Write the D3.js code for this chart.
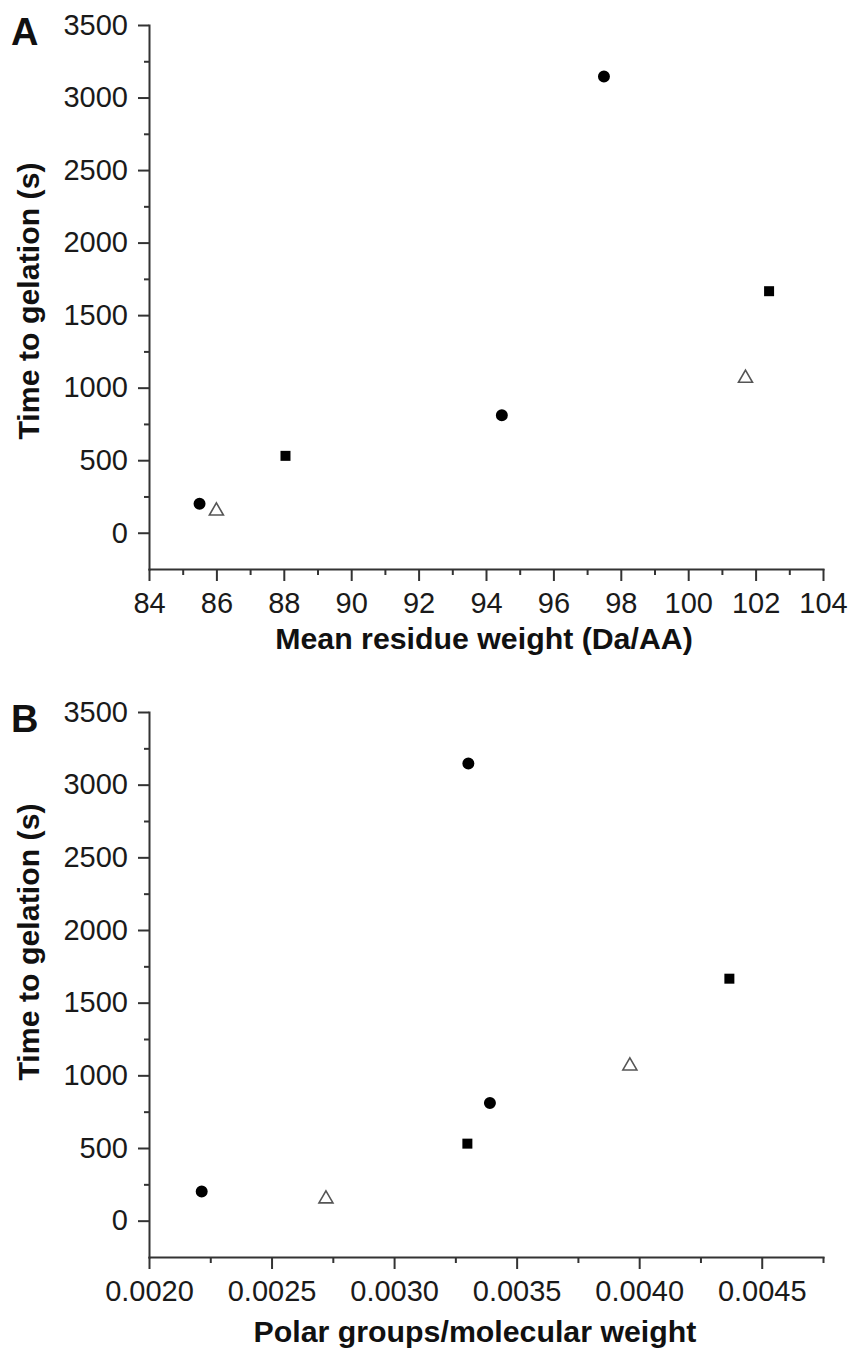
<!DOCTYPE html>
<html>
<head>
<meta charset="utf-8">
<script src="https://cdn.jsdelivr.net/npm/d3@7"></script>
<style>
    body { margin: 0; background: #fff; }
    .axis path, .axis line { stroke: #333; stroke-width: 2; }
    .axis text { font-family: "Liberation Sans", Arial, sans-serif; font-size: 29px; fill: #1a1a1a; }
    .title { font-family: "Liberation Sans", Arial, sans-serif; font-weight: bold; font-size: 30.3px; fill: #111; }
    .panel-label { font-family: "Liberation Sans", Arial, sans-serif; font-weight: bold; font-size: 38px; fill: #111; }
</style>
</head>
<body>
<div id="chart"></div>
<script>

// same seven samples, plotted against two different x variables
const markerShapes      = ["circle", "triangle", "square", "circle", "circle", "triangle", "square"];
const gelationTime      = [200, 150, 530, 810, 3145, 1065, 1665];
const meanResidueWeight = [85.5, 86.0, 88.05, 94.47, 97.5, 101.7, 102.4];
const polarGroupsPerMW  = [0.002215, 0.002722, 0.003299, 0.003391, 0.003303, 0.003962, 0.004368];

const yMajorTicks  = [0, 500, 1000, 1500, 2000, 2500, 3000, 3500];
const yMinorTicks  = [250, 750, 1250, 1750, 2250, 2750, 3250];
const xMajorTicksA = [84, 86, 88, 90, 92, 94, 96, 98, 100, 102, 104];
const xMinorTicksA = [85, 87, 89, 91, 93, 95, 97, 99, 101, 103];
const xMajorTicksB = [0.0020, 0.0025, 0.0030, 0.0035, 0.0040, 0.0045];
const xMinorTicksB = [0.00225, 0.00275, 0.00325, 0.00375, 0.00425, 0.00475];


const svg = d3.select("#chart")
    .append("svg")
    .attr("width", 854)
    .attr("height", 1349);

svg.append("rect").attr("width", 854).attr("height", 1349).attr("fill", "#fff");


function drawPanel(cfg) {

    const g = svg.append("g");

    const xScale = d3.scaleLinear()
        .domain(cfg.xDomain)
        .range([149, 823]);

    const yScale = d3.scaleLinear()
        .domain([-250, 3500])
        .range([cfg.bottom, cfg.top]);

    // minor ticks first, then the axes with labels on top
    g.append("g")
        .attr("class", "axis")
        .attr("transform", "translate(0," + cfg.bottom + ")")
        .call(d3.axisBottom(xScale).tickValues(cfg.xMinor).tickSize(6).tickFormat(""))
        .select(".domain").remove();

    g.append("g")
        .attr("class", "axis")
        .attr("transform", "translate(149,0)")
        .call(d3.axisLeft(yScale).tickValues(yMinorTicks).tickSize(5).tickFormat(""))
        .select(".domain").remove();

    g.append("g")
        .attr("class", "axis")
        .attr("transform", "translate(0," + cfg.bottom + ")")
        .call(d3.axisBottom(xScale).tickValues(cfg.xMajor).tickSize(12).tickPadding(11)
            .tickSizeOuter(0).tickFormat(cfg.xFormat));

    g.append("g")
        .attr("class", "axis")
        .attr("transform", "translate(149,0)")
        .call(d3.axisLeft(yScale).tickValues(yMajorTicks).tickSize(11).tickPadding(10)
            .tickSizeOuter(0).tickFormat(d3.format("d")));

    g.selectAll(".domain").attr("stroke-linecap", "square");

    // points
    const symbols = {
        circle:   d3.symbol().type(d3.symbolCircle).size(113),
        square:   d3.symbol().type(d3.symbolSquare).size(100),
        triangle: d3.symbol().type(d3.symbolTriangle).size(85)
    };

    g.selectAll(".pt")
        .data(cfg.xValues)
        .enter()
        .append("path")
        .attr("class", "pt")
        .attr("transform", (d, i) => "translate(" + xScale(d) + "," + yScale(gelationTime[i]) + ")")
        .attr("d", (d, i) => symbols[markerShapes[i]]())
        .attr("fill", (d, i) => markerShapes[i] === "triangle" ? "#fff" : "#000")
        .attr("stroke", (d, i) => markerShapes[i] === "triangle" ? "#555" : "none")
        .attr("stroke-width", 1.6);

    // titles
    g.append("text")
        .attr("class", "title")
        .attr("x", cfg.xTitleX)
        .attr("y", cfg.xTitleY)
        .attr("text-anchor", "middle")
        .text(cfg.xTitle);

    g.append("text")
        .attr("class", "title")
        .attr("transform", "translate(39," + cfg.yTitleY + ") rotate(-90)")
        .attr("text-anchor", "middle")
        .text("Time to gelation (s)");

    g.append("text")
        .attr("class", "panel-label")
        .attr("x", 11)
        .attr("y", cfg.top + cfg.labelDy)
        .text(cfg.label);
}


drawPanel({
    label: "A",
    labelDy: 20,
    top: 25,
    bottom: 569,
    xDomain: [84, 104],
    xMajor: xMajorTicksA,
    xMinor: xMinorTicksA,
    xFormat: d3.format("d"),
    xValues: meanResidueWeight,
    xTitle: "Mean residue weight (Da/AA)",
    xTitleX: 484,
    xTitleY: 649,
    yTitleY: 301
});

drawPanel({
    label: "B",
    labelDy: 20,
    top: 712,
    bottom: 1257,
    xDomain: [0.0020, 0.00475],
    xMajor: xMajorTicksB,
    xMinor: xMinorTicksB,
    xFormat: d3.format(".4f"),
    xValues: polarGroupsPerMW,
    xTitle: "Polar groups/molecular weight",
    xTitleX: 475,
    xTitleY: 1342,
    yTitleY: 942
});

</script>
</body>
</html>
